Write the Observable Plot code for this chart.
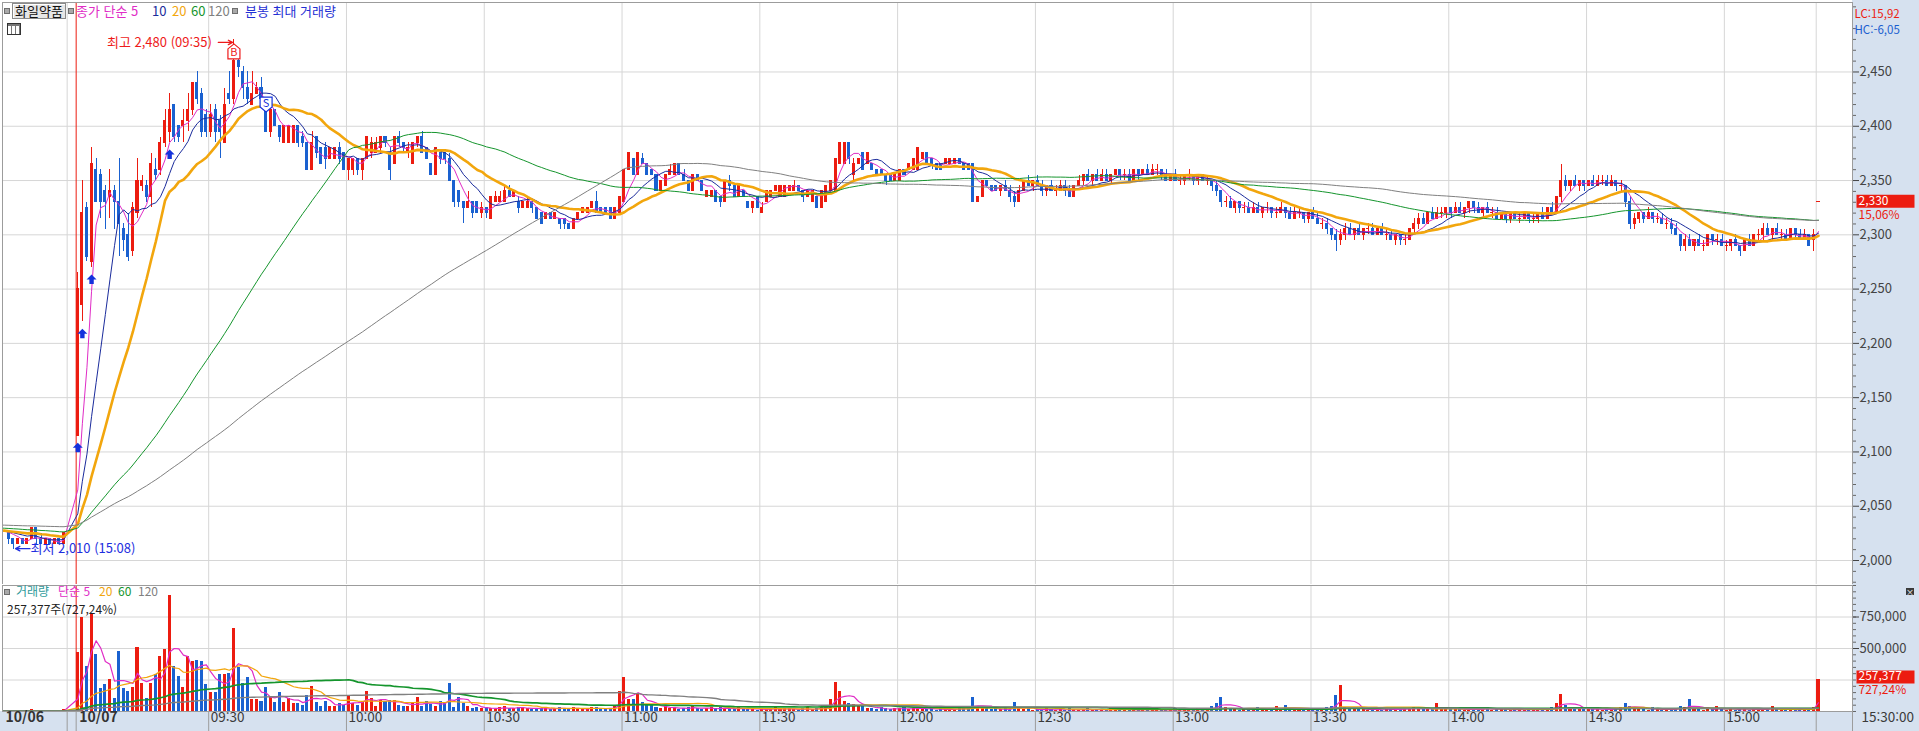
<!DOCTYPE html>
<html lang="ko">
<head>
<meta charset="utf-8">
<title>화일약품 1분봉</title>
<script src="https://cdn.jsdelivr.net/npm/d3@7"></script>
<script src="https://cdn.jsdelivr.net/npm/@observablehq/plot@0.6"></script>
<style>
  body { margin: 0; background: #fff; }
  #chart { position: relative; width: 1919px; height: 731px; overflow: hidden; background: #fff;
    font-family: "Liberation Sans Narrow", "Noto Sans CJK KR", sans-serif; }
  #chart > svg { position: absolute; left: 0; }
</style>
</head>
<body>
<div id="chart"></div>
<script>
// 화일약품 1분봉 : 10/06 장마감 일부 + 10/07 하루
// 10/06 earlier minutes, off screen, only feed the moving averages
const hiddenPrevCloses = [
  2040,2040,2035,2035,2040,2035,2035,2030,2035,2040,
  2040,2035,2035,2035,2040,2035,2030,2035,2035,2040,
  2040,2035,2035,2040,2035,2035,2030,2035,2035,2040,
  2035,2035,2040,2040,2035,2035,2035,2030,2035,2040,
  2035,2035,2040,2035,2035,2035,2040,2035,2030,2035,
  2035,2040,2035,2035,2035,2030,2035,2035,2040,2035,
  2035,2030,2035,2030,2030,2025,2030,2030,2025,2030,
  2030,2030,2025,2030,2030,2025,2030,2030,2025,2025,
  2030,2030,2025,2030,2030,2025,2030,2030,2025,2030,
  2025,2030,2025,2025,2030,2025,2030,2030,2025,2030,
  2025,2030,2025,2025,2030,2030,2025
];
const hiddenPrevVolK = [
  4,3,5,2,6,3,4,8,3,2, 5,4,3,6,2,3,7,4,3,5, 2,4,6,3,3,5,2,4,3,6,
  4,2,5,3,4,7,3,2,4,5, 3,6,2,4,3,5,4,2,3,6, 5,3,4,2,6,3,4,5,2,3,
  4,7,3,5,2,4,3,6,4,2, 3,5,4,3,6,2,4,3,5,4, 2,6,3,4,5,3,2,4,6,3,
  5,4,2,3,7,4,3,5,2,4, 3,6,4,2,5,3,8
];

// 10/06 visible candles [open, high, low, close]
const prevDayOHLC = [
  [2025,2025,2015,2020],[2020,2020,2010,2015],[2015,2020,2015,2020],[2020,2020,2015,2015],
  [2015,2020,2015,2020],[2020,2030,2020,2030],[2030,2030,2015,2020],[2020,2025,2015,2015],
  [2015,2020,2015,2020],[2020,2020,2015,2015],[2015,2020,2015,2020],[2020,2020,2015,2015],
  [2015,2025,2015,2025]
];
const prevDayVolK = [3,5,4,2,3,14,6,3,2,4,3,2,12];

// 10/07 candles 09:01 ... 15:19, then 15:30 close  [open, high, low, close]
const todayOHLC = [
  [2115,2265,2115,2250],[2235,2350,2220,2320],[2325,2330,2275,2280],[2275,2380,2270,2365],[2360,2370,2330,2330],[2355,2360,2315,2330],[2340,2345,2305,2330],[2335,2360,2315,2340],[2340,2345,2305,2330],[2330,2370,2280,2310],
  [2305,2310,2285,2295],[2300,2320,2275,2280],[2285,2330,2280,2325],[2320,2370,2315,2350],[2345,2355,2340,2350],[2345,2350,2330,2335],[2335,2375,2325,2365],[2360,2370,2350,2355],[2360,2390,2355,2385],[2385,2415,2380,2405],
  [2395,2430,2385,2415],[2420,2420,2385,2390],[2400,2400,2385,2390],[2400,2415,2385,2405],[2405,2430,2395,2415],[2415,2440,2410,2440],[2440,2450,2420,2425],[2430,2435,2390,2395],[2410,2415,2390,2395],[2395,2420,2390,2410],
  [2415,2420,2385,2395],[2405,2410,2370,2395],[2385,2435,2385,2420],[2430,2450,2420,2425],[2425,2480,2420,2460],[2460,2465,2445,2455],[2450,2455,2425,2435],[2435,2450,2420,2425],[2420,2450,2420,2430],[2430,2440,2430,2435],
  [2435,2445,2425,2425],[2415,2420,2395,2395],[2395,2420,2390,2415],[2415,2415,2400,2400],[2400,2400,2385,2390],[2385,2400,2385,2400],[2385,2400,2385,2400],[2385,2400,2385,2400],[2400,2400,2380,2385],[2390,2395,2380,2385],
  [2385,2385,2360,2360],[2360,2395,2360,2385],[2390,2390,2370,2375],[2380,2380,2365,2365],[2380,2385,2360,2370],[2370,2380,2370,2380],[2370,2380,2370,2380],[2380,2385,2365,2370],[2375,2375,2360,2360],[2360,2370,2350,2370],
  [2360,2370,2355,2370],[2370,2370,2355,2360],[2360,2370,2350,2370],[2370,2390,2370,2390],[2375,2390,2370,2385],[2375,2390,2375,2385],[2380,2390,2375,2390],[2390,2390,2380,2385],[2375,2380,2350,2360],[2365,2390,2365,2390],
  [2390,2395,2380,2385],[2385,2385,2375,2380],[2375,2385,2370,2380],[2365,2385,2365,2385],[2385,2390,2380,2390],[2390,2395,2375,2375],[2380,2380,2370,2370],[2365,2365,2355,2355],[2355,2380,2355,2380],[2375,2375,2365,2370],
  [2375,2375,2365,2370],[2370,2375,2350,2350],[2350,2350,2325,2330],[2340,2340,2325,2330],[2330,2330,2310,2325],[2325,2340,2325,2330],[2330,2330,2315,2320],[2330,2330,2320,2320],[2320,2330,2315,2325],[2325,2325,2315,2320],
  [2315,2335,2315,2335],[2330,2340,2330,2335],[2330,2340,2330,2335],[2330,2345,2330,2340],[2340,2345,2335,2335],[2335,2340,2335,2340],[2330,2335,2320,2325],[2325,2330,2325,2330],[2325,2335,2325,2330],[2330,2330,2320,2325],
  [2325,2325,2315,2315],[2320,2320,2310,2310],[2315,2320,2315,2320],[2320,2320,2315,2315],[2315,2320,2315,2320],[2315,2315,2305,2310],[2315,2315,2305,2310],[2310,2310,2305,2305],[2305,2315,2305,2315],[2315,2320,2315,2320],
  [2320,2325,2320,2325],[2320,2325,2320,2325],[2325,2330,2325,2330],[2330,2340,2320,2320],[2325,2325,2320,2320],[2325,2325,2320,2320],[2325,2325,2315,2315],[2315,2325,2315,2325],[2320,2335,2320,2335],[2330,2360,2330,2360],
  [2360,2375,2360,2375],[2370,2370,2355,2355],[2355,2375,2355,2375],[2370,2375,2365,2365],[2365,2365,2355,2355],[2360,2360,2355,2355],[2355,2355,2340,2340],[2340,2350,2340,2350],[2345,2355,2345,2355],[2355,2365,2355,2360],
  [2355,2365,2355,2365],[2365,2365,2355,2355],[2355,2360,2350,2350],[2350,2350,2340,2340],[2340,2355,2340,2355],[2355,2355,2350,2350],[2350,2350,2340,2340],[2335,2340,2335,2340],[2335,2340,2335,2340],[2340,2340,2330,2330],
  [2335,2335,2325,2330],[2330,2350,2330,2350],[2350,2355,2340,2345],[2345,2345,2335,2335],[2335,2345,2335,2345],[2340,2340,2335,2335],[2330,2330,2325,2325],[2325,2330,2320,2330],[2335,2335,2325,2325],[2320,2330,2320,2325],
  [2330,2340,2330,2340],[2335,2340,2335,2340],[2340,2345,2340,2345],[2335,2345,2335,2345],[2335,2345,2335,2345],[2340,2345,2340,2345],[2340,2350,2340,2345],[2345,2345,2340,2340],[2340,2340,2330,2335],[2335,2340,2335,2340],
  [2330,2340,2330,2340],[2335,2335,2325,2325],[2325,2340,2325,2340],[2330,2345,2330,2345],[2340,2350,2340,2350],[2340,2370,2340,2370],[2365,2385,2365,2385],[2365,2385,2365,2385],[2385,2385,2365,2370],[2355,2370,2350,2365],
  [2365,2370,2365,2370],[2375,2375,2360,2360],[2365,2375,2365,2375],[2365,2365,2360,2360],[2360,2360,2355,2355],[2360,2360,2355,2355],[2355,2355,2345,2350],[2355,2355,2350,2350],[2350,2355,2350,2355],[2350,2360,2350,2360],
  [2360,2360,2355,2355],[2360,2365,2360,2365],[2360,2370,2360,2370],[2360,2380,2360,2380],[2370,2375,2370,2375],[2375,2375,2365,2365],[2370,2370,2360,2365],[2365,2365,2360,2360],[2365,2365,2360,2360],[2365,2370,2365,2370],
  [2365,2370,2365,2370],[2365,2370,2365,2370],[2370,2370,2365,2365],[2365,2365,2360,2360],[2365,2365,2360,2360],[2365,2365,2330,2330],[2330,2335,2330,2335],[2335,2350,2335,2350],[2350,2350,2345,2345],[2345,2345,2340,2340],
  [2345,2345,2340,2340],[2340,2345,2335,2345],[2345,2350,2340,2340],[2340,2345,2330,2335],[2335,2340,2325,2330],[2330,2345,2330,2340],[2340,2350,2340,2350],[2350,2355,2345,2345],[2345,2350,2340,2350],[2350,2355,2345,2345],
  [2345,2350,2335,2340],[2340,2345,2335,2345],[2345,2350,2340,2340],[2340,2345,2335,2340],[2340,2350,2340,2345],[2345,2350,2335,2340],[2340,2345,2335,2335],[2335,2345,2335,2345],[2345,2355,2345,2350],[2350,2355,2345,2355],
  [2355,2360,2350,2350],[2350,2355,2345,2355],[2355,2360,2350,2350],[2350,2360,2350,2355],[2355,2360,2350,2350],[2350,2355,2345,2355],[2355,2360,2355,2360],[2360,2360,2350,2355],[2355,2360,2350,2355],[2355,2360,2350,2350],
  [2350,2360,2350,2360],[2360,2360,2350,2355],[2355,2360,2355,2360],[2360,2365,2355,2355],[2355,2365,2355,2360],[2360,2365,2355,2360],[2360,2360,2350,2355],[2355,2360,2350,2350],[2350,2355,2350,2355],[2355,2360,2350,2350],
  [2350,2355,2345,2350],[2350,2355,2345,2355],[2355,2360,2350,2355],[2355,2355,2345,2350],[2350,2355,2345,2355],[2355,2355,2350,2350],[2350,2355,2345,2350],[2350,2350,2340,2345],[2345,2350,2335,2340],[2340,2340,2325,2330],
  [2330,2335,2325,2330],[2330,2335,2325,2325],[2325,2330,2320,2330],[2330,2330,2320,2325],[2325,2330,2320,2325],[2325,2330,2320,2320],[2320,2330,2320,2325],[2325,2330,2320,2320],[2320,2325,2315,2325],[2325,2330,2320,2325],
  [2325,2325,2315,2320],[2320,2325,2315,2320],[2320,2330,2320,2325],[2325,2325,2315,2320],[2320,2325,2315,2315],[2315,2325,2315,2320],[2320,2325,2315,2320],[2320,2320,2310,2315],[2315,2320,2310,2320],[2320,2325,2315,2315],
  [2315,2320,2310,2310],[2310,2315,2305,2310],[2310,2315,2300,2305],[2305,2305,2295,2300],[2300,2305,2285,2295],[2295,2305,2290,2300],[2300,2310,2295,2305],[2305,2310,2300,2300],[2300,2305,2295,2305],[2305,2310,2300,2300],
  [2300,2305,2295,2305],[2305,2310,2300,2305],[2305,2310,2300,2300],[2300,2305,2300,2305],[2305,2310,2300,2300],[2300,2305,2295,2300],[2300,2305,2295,2295],[2295,2300,2290,2300],[2300,2300,2290,2295],[2295,2300,2290,2295],
  [2295,2305,2295,2305],[2305,2315,2300,2310],[2310,2320,2305,2315],[2315,2320,2310,2310],[2310,2320,2310,2320],[2320,2325,2315,2315],[2315,2325,2315,2320],[2320,2325,2315,2320],[2320,2325,2315,2325],[2325,2325,2315,2320],
  [2320,2330,2320,2325],[2325,2330,2320,2320],[2320,2325,2315,2325],[2325,2330,2320,2330],[2330,2330,2320,2325],[2325,2330,2320,2320],[2320,2325,2315,2325],[2325,2330,2320,2320],[2320,2325,2315,2320],[2320,2325,2315,2315],
  [2315,2320,2315,2320],[2320,2320,2310,2315],[2315,2320,2310,2320],[2320,2320,2315,2315],[2315,2320,2310,2315],[2315,2320,2315,2320],[2320,2320,2310,2315],[2315,2320,2310,2315],[2315,2320,2310,2320],[2320,2325,2315,2315],
  [2315,2325,2315,2325],[2325,2330,2320,2320],[2320,2335,2320,2335],[2335,2365,2330,2350],[2350,2355,2340,2345],[2345,2350,2340,2350],[2350,2355,2345,2345],[2345,2350,2340,2350],[2350,2350,2340,2345],[2345,2350,2345,2350],
  [2350,2355,2345,2345],[2345,2355,2345,2350],[2350,2355,2345,2350],[2350,2355,2345,2345],[2345,2355,2345,2350],[2350,2350,2340,2345],[2345,2350,2340,2345],[2345,2345,2325,2330],[2330,2335,2305,2310],[2310,2320,2305,2315],
  [2315,2320,2310,2320],[2320,2320,2310,2315],[2315,2325,2315,2320],[2320,2320,2310,2315],[2315,2320,2310,2315],[2315,2320,2310,2310],[2310,2315,2305,2310],[2310,2315,2300,2305],[2305,2310,2300,2300],[2300,2300,2285,2290],
  [2290,2300,2285,2295],[2295,2300,2290,2290],[2290,2295,2285,2295],[2295,2300,2290,2290],[2290,2295,2285,2290],[2290,2300,2290,2300],[2300,2300,2290,2295],[2295,2300,2290,2295],[2295,2300,2290,2290],[2290,2295,2285,2290],
  [2290,2295,2285,2295],[2295,2300,2290,2290],[2290,2290,2280,2285],[2285,2295,2285,2295],[2295,2300,2290,2290],[2290,2300,2290,2300],[2300,2305,2295,2300],[2300,2310,2295,2305],[2305,2310,2300,2300],[2300,2305,2295,2305],
  [2305,2310,2300,2300],[2300,2305,2295,2300],[2300,2305,2295,2295],[2295,2305,2295,2305],[2305,2305,2295,2300],[2300,2305,2295,2295],[2295,2305,2295,2300],[2300,2300,2290,2290],[2295,2305,2285,2300],[2330,2330,2330,2330]
];

// 10/07 volume, thousand shares per candle
const todayVolK = [
  472,744,361,778,453,180,211,253,105,480,
  180,155,194,511,222,105,222,292,439,489,
  919,361,278,189,433,397,405,397,217,147,
  147,294,294,300,661,347,222,272,97,97,
  78,189,111,69,153,69,105,64,64,50,
  130,200,75,40,80,40,40,65,50,120,
  65,50,80,160,105,40,90,80,90,85,
  45,40,40,60,110,40,80,55,40,80,
  60,225,35,110,65,40,25,30,20,35,
  25,15,30,40,20,25,35,30,20,15,
  25,20,30,15,25,35,20,15,30,25,
  20,15,30,35,20,15,25,40,158,270,
  95,92,132,74,55,48,30,25,40,20,
  35,15,25,30,45,20,15,25,30,20,
  35,25,15,20,30,25,15,20,10,25,
  15,20,30,15,20,25,15,10,20,30,
  15,25,35,40,92,230,158,80,65,55,
  40,50,25,20,15,30,20,15,25,20,
  30,15,20,35,25,15,20,10,25,15,
  20,15,25,30,20,111,40,25,20,15,
  20,15,20,10,74,20,15,25,10,15,
  10,20,15,10,15,10,20,15,10,15,
  20,10,15,10,15,20,25,10,15,10,
  15,10,20,15,10,15,10,10,15,20,
  10,15,10,15,20,10,25,40,60,113,
  30,20,15,10,15,20,10,35,15,10,
  15,40,20,47,15,10,20,15,10,15,
  20,25,30,40,127,206,30,20,15,25,
  15,10,20,15,10,15,20,25,15,20,
  25,30,20,15,25,20,61,30,15,20,
  15,20,10,25,15,20,15,35,10,15,
  20,15,10,15,20,10,15,10,20,15,
  25,30,60,132,50,30,20,15,25,20,
  15,20,10,15,20,25,30,61,40,25,
  15,20,10,30,15,10,15,20,25,40,
  30,92,20,15,10,15,20,40,15,10,
  15,10,20,15,10,25,15,20,10,40,
  15,10,20,15,10,20,15,25,30,257.377
];

const priceTicks = [2000, 2050, 2100, 2150, 2200, 2250, 2300, 2350, 2400, 2450];
const volumeTicks = [500000, 750000];
const volumeGrid = [250000, 500000, 750000];
const timeLabels = ["09:30","10:00","10:30","11:00","11:30","12:00","12:30","13:00","13:30","14:00","14:30","15:00"];
const closingSlot = "15:20";
const dateLabels = ["10/06", "10/07"];
const maPeriods = [5, 10, 20, 60, 120];
const volMaPeriods = [5, 20, 60, 120];
const buySignals = [0, 1, 3, 20];
const sellSignals = [41];
const lowTime = "15:08";
const changePct = "15,06%";
const volumeRatio = "727,24%";
const lcText = "LC:15,92";
const hcText = "HC:-6,05";
const stockName = "화일약품";

// ---------- layout / style ----------
const W = 1919, PRICE_H = 584, VOL_H = 147;
const X_DOMAIN = [-16.39, 386.4];   // visible candle slots
const PREV_DAY_END = -2.31;         // 10/06 | 10/07 cell border
const DAY_BREAK = -0.35;            // red day divider
const UP = "#ec1c10", DOWN = "#1a61d0", GRID = "#d6d6d6", EDGE = "#9c9c9c";
const HI_RED = "#ee1a1a", LO_BLUE = "#1e2ee0", SIG_BLUE = "#1432dc";
const FONT = `"Liberation Sans Narrow", "Noto Sans CJK KR", sans-serif`;
const maStyle = {5: ["#e02cc6", 1], 10: ["#1b2c9c", 1], 20: ["#f2a60d", 2.6], 60: ["#15952d", 1], 120: ["#808080", 1]};
const volMaStyle = {5: ["#e02cc6", 1.2], 20: ["#f2a60d", 1.2], 60: ["#15952d", 1.7], 120: ["#808080", 1.4]};

// ---------- rows ----------
const rows = [];
hiddenPrevCloses.forEach((c, k) =>
  rows.push({i: -15 - hiddenPrevCloses.length + k, close: c, volume: hiddenPrevVolK[k] * 1000, hidden: true}));
prevDayOHLC.forEach(([o, h, l, c], k) =>
  rows.push({i: -15 + k, open: o, high: h, low: l, close: c, volume: Math.round(prevDayVolK[k] * 1000)}));
todayOHLC.forEach(([o, h, l, c], k) =>
  rows.push({i: k, open: o, high: h, low: l, close: c, volume: Math.round(todayVolK[k] * 1000)}));
const candles = rows.filter(d => !d.hidden);
const today = candles.filter(d => d.i >= 0);
const candleColor = d => (d.close >= d.open ? UP : DOWN);

const slotOf = t => { const [h, m] = t.split(":").map(Number); return (h - 9) * 60 + m - 1.5; };
const timeOf = k => { const m = 9 * 60 + k + 1; return `${String(Math.floor(m / 60)).padStart(2, "0")}:${String(m % 60).padStart(2, "0")}`; };
const gridSlots = [PREV_DAY_END, ...timeLabels.map(slotOf), slotOf(closingSlot)];
const fmt = d3.format(",");

const hi = today[d3.maxIndex(today, d => d.high)];
const lo = candles[d3.minIndex(candles, d => d.low)];
const last = today[today.length - 1];

// custom symbols
const markUp = {draw(c) { c.moveTo(0, -7.5); c.lineTo(6, -2.5); c.lineTo(6, 7.5); c.lineTo(-6, 7.5); c.lineTo(-6, -2.5); c.closePath(); }};
const markDown = {draw(c) { c.moveTo(-6, -7.5); c.lineTo(6, -7.5); c.lineTo(6, 2.5); c.lineTo(0, 7.5); c.lineTo(-6, 2.5); c.closePath(); }};
const arrowUp = {draw(c) { c.moveTo(0, -5); c.lineTo(5, 0); c.lineTo(2.2, 0); c.lineTo(2.2, 4.5); c.lineTo(-2.2, 4.5); c.lineTo(-2.2, 0); c.lineTo(-5, 0); c.closePath(); }};
const box = (w, h) => ({draw(c) { c.rect(-w / 2, -h / 2, w, h); }});

const maLines = (periods, style, field) => periods.map(k =>
  Plot.lineY(rows, Plot.windowY({k, anchor: "end", reduce: "mean"},
    {x: "i", y: field, stroke: style[k][0], strokeWidth: style[k][1], clip: true})));

// ---------- price panel ----------
const pricePlot = Plot.plot({
  width: W, height: PRICE_H,
  marginLeft: 2, marginRight: 67, marginTop: 2, marginBottom: 0,
  x: {domain: X_DOMAIN, axis: null, label: null},
  y: {domain: [1977.9, 2514.0], axis: null, label: null},
  style: {background: "transparent", fontFamily: FONT},
  marks: [
    Plot.ruleY(priceTicks, {stroke: GRID}),
    Plot.ruleX(gridSlots, {stroke: GRID}),
    Plot.ruleX([DAY_BREAK], {stroke: UP}),
    Plot.ruleX(candles, {x: "i", y1: "low", y2: "high", stroke: candleColor, shapeRendering: "crispEdges"}),
    Plot.rect(candles, {x1: d => d.i - 0.33, x2: d => d.i + 0.33, y1: "open", y2: "close",
      fill: candleColor, insetTop: -0.5, insetBottom: -0.5, shapeRendering: "crispEdges"}),
    ...maLines(maPeriods, maStyle, "close"),
    // high / low annotations
    Plot.arrow([hi], {x1: d => d.i - 3.4, x2: d => d.i - 0.3, y1: "high", y2: "high", dy: 3,
      stroke: HI_RED, strokeWidth: 1.3, headLength: 7, headAngle: 55}),
    Plot.text([hi], {x: "i", y: "high", dx: -22, dy: 3, textAnchor: "end", fill: HI_RED, fontSize: 13,
      text: d => `최고 ${fmt(d.high)} (${timeOf(d.i)})`}),
    Plot.dot([hi], {x: "i", y: "high", dy: 12, symbol: markUp, r: 6, fill: "white", stroke: HI_RED, strokeWidth: 1.2}),
    Plot.text([hi], {x: "i", y: "high", dy: 13, text: () => "B", fill: HI_RED, fontSize: 11}),
    Plot.arrow([lo], {x1: d => d.i + 3.6, x2: d => d.i + 0.45, y1: "low", y2: "low", dy: -1,
      stroke: LO_BLUE, strokeWidth: 1.3, headLength: 7, headAngle: 55}),
    Plot.text([lo], {x: "i", y: "low", dx: 17, dy: -1, textAnchor: "start", fill: LO_BLUE, fontSize: 13,
      text: d => `최저 ${fmt(d.low)} (${lowTime})`}),
    Plot.dot(sellSignals.map(k => today[k]), {x: "i", y: "high", symbol: markDown, r: 6, fill: "white", stroke: SIG_BLUE, strokeWidth: 1.2}),
    Plot.text(sellSignals.map(k => today[k]), {x: "i", y: "high", dy: -1, text: () => "S", fill: SIG_BLUE, fontSize: 11}),
    Plot.dot(buySignals.map(k => today[k]), {x: "i", y: "low", dy: 12, symbol: arrowUp, r: 5, fill: SIG_BLUE}),
    // right axis
    Plot.axisY({anchor: "right", ticks: d3.range(1980, 2511, 10).filter(v => v % 50), tickSize: 3,
      tickFormat: () => "", color: "#666", label: null}),
    Plot.axisY({anchor: "right", ticks: priceTicks, tickSize: 6, tickPadding: 1, tickFormat: fmt,
      fontSize: 13, color: "#444", label: null}),
    Plot.dot([last], {y: "close", frameAnchor: "right", dx: 33, dy: -1, symbol: box(58, 13), r: 1, fill: UP}),
    Plot.text([last], {y: "close", frameAnchor: "right", dx: 6, dy: -1, textAnchor: "start", fill: "white", fontSize: 12,
      text: d => fmt(d.close)}),
    Plot.text([last], {y: "close", frameAnchor: "right", dx: 6, dy: 13, textAnchor: "start", fill: UP, fontSize: 12,
      text: () => changePct}),
    Plot.text([lcText], {frameAnchor: "top-right", dx: 2, dy: 7, textAnchor: "start", fill: UP, fontSize: 11.5}),
    Plot.text([hcText], {frameAnchor: "top-right", dx: 2, dy: 23.5, textAnchor: "start", fill: "#1a5fd0", fontSize: 11.5}),
    Plot.frame({stroke: EDGE})
  ]
});

// ---------- volume panel + time strip ----------
const volumePlot = Plot.plot({
  width: W, height: VOL_H,
  marginLeft: 2, marginRight: 67, marginTop: 1, marginBottom: 20,
  x: {domain: X_DOMAIN, axis: null, label: null},
  y: {domain: [0, 1000000], axis: null, label: null},
  style: {background: "transparent", fontFamily: FONT},
  marks: [
    Plot.ruleY(volumeGrid, {stroke: GRID}),
    Plot.ruleX(gridSlots, {stroke: GRID}),
    Plot.ruleX([DAY_BREAK], {stroke: UP}),
    Plot.rectY(candles, {x1: d => d.i - 0.33, x2: d => d.i + 0.33, y: "volume", fill: candleColor, shapeRendering: "crispEdges"}),
    ...maLines(volMaPeriods, volMaStyle, "volume"),
    Plot.axisY({anchor: "right", ticks: d3.range(0, 1000001, 50000), tickSize: 3, tickFormat: () => "", color: "#666", label: null}),
    Plot.axisY({anchor: "right", ticks: volumeTicks, tickSize: 6, tickPadding: 1, tickFormat: fmt, fontSize: 13, color: "#444", label: null}),
    Plot.dot([last], {y: "volume", frameAnchor: "right", dx: 33, dy: -2, symbol: box(58, 13), r: 1, fill: UP}),
    Plot.text([last], {y: "volume", frameAnchor: "right", dx: 6, dy: -2.5, textAnchor: "start", fill: "white", fontSize: 12,
      text: d => fmt(d.volume)}),
    Plot.text([last], {y: "volume", frameAnchor: "right", dx: 6, dy: 11.5, textAnchor: "start", fill: UP, fontSize: 12,
      text: () => volumeRatio}),
    Plot.frame({stroke: EDGE}),
    // time strip
    Plot.axisX({ticks: [...gridSlots, DAY_BREAK, X_DOMAIN[1]], tickSize: 20, tickFormat: () => "", color: EDGE, label: null}),
    Plot.text(timeLabels, {x: slotOf, frameAnchor: "bottom", dx: 2, dy: 10, textAnchor: "start", fontSize: 13.5, fill: "#3a3a3a"}),
    Plot.text([dateLabels[0]], {frameAnchor: "bottom-left", dx: 3, dy: 10, textAnchor: "start", fontSize: 14, fontWeight: "bold", fill: "#333"}),
    Plot.text([dateLabels[1]], {x: () => DAY_BREAK, frameAnchor: "bottom", dx: 3, dy: 10, textAnchor: "start", fontSize: 14, fontWeight: "bold", fill: "#333"}),
    Plot.text([`${closingSlot.slice(0, 3)}30:00`], {frameAnchor: "bottom-right", dx: 9, dy: 10, textAnchor: "start", fontSize: 13.5, fill: "#3a3a3a"})
  ]
});

// ---------- page ----------
const chart = document.getElementById("chart");
function put(html, css) {
  const el = document.createElement("div");
  el.innerHTML = html;
  Object.assign(el.style, {position: "absolute", whiteSpace: "nowrap"}, css);
  chart.appendChild(el);
  return el;
}
put("", {left: "1852px", top: "0px", width: "67px", height: "731px", background: "#d6e1ef"});
put("", {left: "0px", top: "711px", width: "1919px", height: "20px", background: "#d6e1ef"});
pricePlot.style.top = "0px";
volumePlot.style.top = PRICE_H + "px";
chart.appendChild(pricePlot);
chart.appendChild(volumePlot);

const bullet = (x, y) => put("", {left: x + "px", top: y + "px", width: "4px", height: "4px", background: "#a9a9a9", border: "1px solid #6e6e6e"});
const label = (text, x, y, color, size = 13) =>
  put(text, {left: x + "px", top: (y - size / 2) + "px", lineHeight: size + "px", fontSize: size + "px", color});

// top legend
bullet(4, 8); bullet(68, 8); bullet(232, 8);
put(stockName, {left: "12px", top: "3px", width: "52px", height: "14px", lineHeight: "14px", fontSize: "13px", textAlign: "center",
  color: "#111", background: "#e6e6e6", border: "1px solid #8a8a8a", boxShadow: "inset 1px 1px 0 #fff"});
const legendX = [76, 152, 172, 191, 208];
maPeriods.forEach((k, j) => label(j === 0 ? `종가 단순 ${k}` : String(k), legendX[j], 10, maStyle[k][0]));
label("분봉 최대 거래량", 245, 10, "#1f30d4");
put("", {left: "7px", top: "23px", width: "12px", height: "10px", border: "1px solid #333",
  background: "repeating-linear-gradient(90deg, #fff 0 3px, #777 3px 4px), #fff", boxShadow: "inset 0 2px 0 #777"});

// volume legend
bullet(4, 589);
label("거래량", 16, 591, "#2e9a9a", 12);
const volLegendX = [58, 99, 118, 138];
volMaPeriods.forEach((k, j) => label(j === 0 ? `단순 ${k}` : String(k), volLegendX[j], 591, volMaStyle[k][0], 12));
label(`${fmt(last.volume)}주(${volumeRatio})`, 7, 608.5, "#222", 12);
put("×", {left: "1906px", top: "588px", width: "8px", height: "7px", background: "#3a3a3a", color: "#fff", fontSize: "8px", lineHeight: "7px", textAlign: "center"});
</script>
</body>
</html>
